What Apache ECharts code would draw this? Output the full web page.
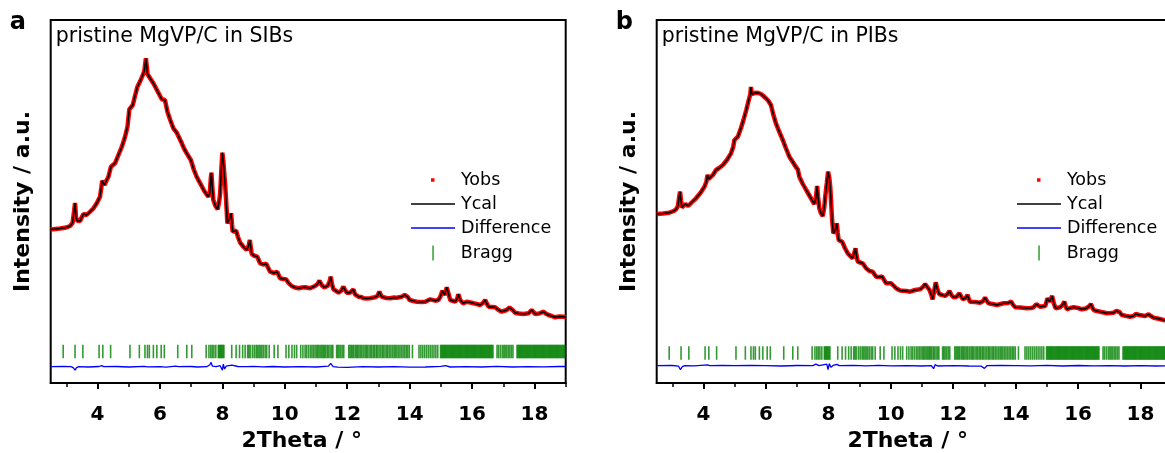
<!DOCTYPE html>
<html>
<head>
<meta charset="utf-8">
<script src="https://cdn.jsdelivr.net/npm/echarts@6/dist/echarts.min.js"></script>
<style>
  html, body { margin: 0; padding: 0; background: #fff; }
  #chart { width: 1165px; height: 453px; }
</style>
</head>
<body>
<div id="chart"></div>
<script>
// Powder patterns of pristine MgVP/C, Rietveld fit: [2θ (°), intensity (a.u.)]
// Observed and calculated profiles overlap at this scale, so one profile feeds both.
const sibProfile = [
  [2.5,153.5],[2.53,153.7],[2.8,154.5],[3.0,155.5],[3.12,157],[3.2,160],[3.25,172],[3.28,180],[3.31,166],[3.35,162.3],
  [3.44,162],[3.5,166],[3.55,169],[3.65,168],[3.75,171],[3.87,174.7],[3.98,180],[4.08,186.3],[4.12,195],[4.15,202.3],
  [4.22,198],[4.28,202],[4.35,206.3],[4.43,216.3],[4.56,219.7],[4.67,228],[4.78,236.3],[4.88,246],[4.96,256.3],[5.02,273.7],
  [5.13,278],[5.2,287],[5.28,296.3],[5.37,302],[5.45,308],[5.5,312],[5.55,324.7],[5.58,316],[5.6,309],[5.7,304],
  [5.79,299.7],[5.92,292],[6.06,283.7],[6.16,283],[6.24,271.3],[6.33,263],[6.43,254.7],[6.54,250.3],[6.62,245],[6.7,239.7],
  [6.78,234],[6.86,229.7],[6.99,223],[7.05,222.3],[7.09,213],[7.18,206],[7.29,199.7],[7.42,192],[7.55,186.3],[7.6,190],
  [7.63,205],[7.65,210.3],[7.68,195],[7.71,183],[7.78,177],[7.85,173.7],[7.9,182],[7.93,189.7],[7.97,215],[8.0,230.3],
  [8.03,222],[8.06,209.7],[8.09,198],[8.12,183],[8.16,159.7],[8.21,161.3],[8.25,166],[8.28,169.7],[8.31,158],[8.33,151.3],
  [8.38,152],[8.44,152.3],[8.5,146],[8.57,140.3],[8.68,136],[8.78,133],[8.84,137],[8.88,143],[8.91,136],[8.94,129],
  [9.04,127],[9.12,126.3],[9.15,124],[9.21,119.7],[9.33,118.5],[9.4,119.5],[9.44,118],[9.53,111.3],[9.65,110],[9.76,111],
  [9.8,110.3],[9.85,104.7],[9.95,104],[10.04,103.7],[10.12,100],[10.22,97],[10.33,95.5],[10.44,94.7],[10.55,95.5],[10.65,95.7],
  [10.81,94.7],[10.97,97],[11.05,99],[11.11,102.3],[11.18,98],[11.26,95.7],[11.37,97],[11.43,101],[11.47,106.3],[11.51,99],
  [11.56,93.7],[11.65,92],[11.72,90.3],[11.8,92],[11.88,96.3],[11.93,93],[11.99,90.3],[12.09,90.3],[12.2,93.7],[12.25,88.7],
  [12.36,86.3],[12.45,86],[12.52,84.7],[12.63,84.5],[12.73,84.7],[12.89,85.7],[12.97,87],[13.03,91.3],[13.1,86.3],[13.25,85],
  [13.38,84.7],[13.5,85.5],[13.59,85.3],[13.75,86.3],[13.84,88],[13.89,89],[13.94,86],[14.0,83],[14.12,82],[14.23,81.3],
  [14.38,81],[14.5,81.3],[14.66,83.7],[14.82,82.3],[14.92,83],[14.98,86],[15.05,92.3],[15.12,88],[15.19,95.7],[15.24,90],
  [15.3,83],[15.46,81.3],[15.52,84],[15.56,88.7],[15.62,83],[15.71,79.7],[15.84,81.3],[15.95,80.5],[16.05,79.7],[16.15,79],
  [16.26,78],[16.35,80],[16.42,83],[16.48,79],[16.53,76.3],[16.65,76],[16.74,75.7],[16.85,73],[16.95,71.3],[17.11,73],
  [17.2,75.5],[17.24,77],[17.3,73],[17.38,70.3],[17.5,69.5],[17.65,69],[17.81,69.7],[17.91,73],[17.96,71],[18.02,69],
  [18.15,69.5],[18.29,71.3],[18.36,69.5],[18.45,68],[18.55,67],[18.66,65.7],[18.8,66.5],[18.93,66.3],[19.0,66]
];

const pibProfile = [
  [2.5,169],[2.53,169],[2.7,169.5],[2.9,170.3],[3.05,172],[3.12,173.7],[3.18,177],[3.22,186],[3.25,191.3],[3.28,182],
  [3.31,175.7],[3.42,179],[3.51,177],[3.62,180.5],[3.76,184.7],[3.9,190],[4.03,196.3],[4.09,201],[4.13,208],[4.17,204],
  [4.21,203],[4.3,208],[4.4,213],[4.5,215],[4.62,218],[4.75,223],[4.88,229.7],[4.95,236],[4.99,243],[5.1,246.3],
  [5.2,255],[5.28,263],[5.37,273],[5.45,283],[5.5,289],[5.52,296],[5.55,289],[5.58,288],[5.68,290.3],[5.76,290],
  [5.84,289],[5.92,287],[6.0,284.7],[6.08,282],[6.16,278],[6.24,268],[6.32,259.7],[6.43,251],[6.54,243],[6.65,234],
  [6.75,226.3],[6.88,220],[6.96,216],[7.02,213.7],[7.07,206.3],[7.18,199],[7.29,193],[7.42,186],[7.55,179],[7.6,185],
  [7.64,197],[7.67,186],[7.71,174.7],[7.76,170],[7.82,167],[7.87,176],[7.9,186.3],[7.95,200],[7.99,211.3],[8.03,205],
  [8.06,196.3],[8.09,180],[8.12,163],[8.16,149.7],[8.22,153],[8.27,159.7],[8.3,150],[8.33,143],[8.44,141.3],[8.53,135],
  [8.62,129.7],[8.7,127],[8.78,124.7],[8.83,130],[8.87,134.7],[8.9,128],[8.94,121.3],[9.02,120.5],[9.1,119.7],[9.15,117.5],
  [9.21,114.7],[9.32,112],[9.38,112.5],[9.42,111.3],[9.53,106.3],[9.65,106],[9.72,106.5],[9.76,105.7],[9.85,99.7],[10.01,99.7],
  [10.1,97],[10.17,94.7],[10.3,92.5],[10.38,92.3],[10.5,92],[10.62,91.3],[10.78,93],[10.94,93.7],[11.03,96],[11.1,99],
  [11.17,96],[11.24,93],[11.3,88],[11.34,83.7],[11.39,92],[11.44,100.7],[11.49,94],[11.55,89],[11.65,88],[11.74,87],
  [11.82,89],[11.88,92],[11.94,88],[12.01,85.7],[12.1,86],[12.2,89.7],[12.26,86],[12.31,83.7],[12.4,85],[12.46,88],
  [12.5,84],[12.54,81.3],[12.7,81],[12.86,80.3],[12.96,82],[13.02,85.3],[13.08,82],[13.13,79.7],[13.25,79],[13.4,78],
  [13.52,79],[13.61,79.7],[13.75,80],[13.86,81.3],[13.92,78],[13.99,75.7],[14.15,75.5],[14.36,74.7],[14.5,75],[14.57,75.7],
  [14.66,78.7],[14.72,77],[14.79,76.3],[14.95,77],[15.02,84.7],[15.09,81.3],[15.17,87],[15.22,80],[15.28,74.7],[15.43,75.7],
  [15.5,78],[15.56,81.3],[15.6,77],[15.64,73.7],[15.75,75],[15.86,75.7],[16.0,75],[16.12,73.7],[16.25,74.5],[16.35,76.5],
  [16.41,79],[16.46,75.5],[16.5,73],[16.6,72],[16.71,71.3],[16.82,70.5],[16.92,69.7],[17.05,70],[17.14,70.3],[17.22,72],
  [17.28,73.7],[17.33,71],[17.4,68],[17.55,67],[17.67,66.3],[17.78,67],[17.85,69],[17.91,70.3],[17.96,68],[18.01,66.3],
  [18.15,67],[18.26,68.7],[18.33,67],[18.42,65.3],[18.55,64.5],[18.74,63],[18.88,62.5],[19.0,62]
];

// Yobs - Ycal residuals: [2θ (°), difference (a.u.)]
const sibDiff = [
  [2.5,0],[2.9,0.2],[3.15,0],[3.22,-1],[3.28,-3.5],[3.33,-1],[3.4,0],[3.7,-0.3],[4.05,0.2],[4.13,1],[4.2,0],
  [4.6,0.2],[5.0,-0.3],[5.5,0.3],[5.55,1],[5.6,-0.2],[6.0,0],[6.2,-0.5],[6.5,0.5],[6.6,0],[7.0,0.2],[7.2,-0.3],
  [7.5,0],[7.6,2],[7.64,4.3],[7.68,0.5],[7.8,0],[7.93,1],[7.97,3],[8.0,-3.5],[8.03,2.5],[8.07,-2.3],[8.12,0.5],
  [8.18,-0.5],[8.3,1.5],[8.36,-0.3],[8.5,0.2],[8.8,0],[9.0,0.3],[9.3,-0.2],[9.6,0.2],[10.0,-0.3],[10.5,0],
  [11.0,-0.3],[11.4,0.5],[11.47,3.3],[11.55,0],[11.7,-0.5],[12.0,-0.7],[12.5,0],[13.0,-0.3],[13.5,0],[14.0,-0.5],
  [14.5,-0.3],[15.0,0.3],[15.15,1],[15.3,-0.3],[15.8,0],[16.3,-0.3],[16.8,0.3],[17.3,-0.3],[17.8,0],[18.3,-0.2],
  [18.8,0.2],[19.0,0.2]
];

const pibDiff = [
  [2.5,0],[3.0,0.2],[3.2,-0.5],[3.26,-4],[3.32,-1],[3.4,0],[3.7,-0.2],[4.13,0.8],[4.2,0],[4.6,0.3],[5.0,0],
  [5.5,0.3],[6.0,0],[6.5,-0.3],[7.0,0.2],[7.5,0],[7.6,1.5],[7.64,3],[7.7,0],[7.95,1.5],[7.99,-4],[8.03,2],
  [8.08,-1.5],[8.15,0.3],[8.27,1.3],[8.35,0],[8.8,0.3],[9.2,-0.2],[9.6,0.3],[10.0,-0.2],[10.5,0],[11.0,-0.3],
  [11.3,0],[11.37,-3],[11.42,1],[11.5,-0.3],[12.0,0],[12.5,-0.3],[12.9,-0.5],[13.0,-2.7],[13.08,0],[13.5,0.2],
  [14.0,0],[14.5,-0.2],[15.0,0.3],[15.5,-0.3],[16.0,0.2],[16.5,-0.2],[17.0,0],[17.5,-0.3],[18.0,0],[18.5,-0.3],
  [19.0,-0.2]
];

// Bragg reflection positions of the MgVP phase (2θ, °)
const braggPositions = [
  2.90, 3.28, 3.53, 4.05, 4.17, 4.42, 5.04, 5.34, 5.52, 5.60, 5.66, 5.79, 5.90, 6.04, 6.14, 6.57, 6.86, 7.02,
  7.48, 7.57, 7.63, 7.68, 7.73, 7.79, 7.87, 7.90, 7.93, 7.96, 7.99, 8.02, 8.05, 8.30, 8.44, 8.55, 8.65, 8.73,
  8.81, 8.85, 8.89, 8.96, 9.02, 9.08, 9.12, 9.17, 9.21, 9.26, 9.31, 9.37, 9.42, 9.50, 9.66, 9.78, 10.04, 10.13,
  10.23, 10.31, 10.38, 10.51, 10.58, 10.65, 10.70, 10.76, 10.82, 10.87, 10.92, 10.97, 11.02, 11.06, 11.10, 11.15,
  11.19, 11.23, 11.27, 11.31, 11.36, 11.40, 11.45, 11.50, 11.54, 11.66, 11.70, 11.74, 11.79, 11.84, 11.89, 12.05,
  12.09, 12.13, 12.17, 12.21, 12.26, 12.30, 12.34, 12.38, 12.43, 12.47, 12.52, 12.57, 12.61, 12.65, 12.70, 12.75,
  12.79, 12.84, 12.88, 12.93, 12.97, 13.02, 13.07, 13.12, 13.16, 13.21, 13.26, 13.30, 13.35, 13.40, 13.45, 13.50,
  13.54, 13.59, 13.64, 13.69, 13.74, 13.79, 13.84, 13.89, 13.94, 13.99, 14.09, 14.30, 14.36, 14.42, 14.48, 14.54,
  14.60, 14.66, 14.72, 14.78, 14.84, 14.90, 14.99, 15.02, 15.05, 15.08, 15.11, 15.14, 15.17, 15.20, 15.23, 15.26,
  15.29, 15.32, 15.35, 15.38, 15.41, 15.44, 15.47, 15.50, 15.53, 15.56, 15.59, 15.62, 15.65, 15.68, 15.71, 15.74,
  15.77, 15.80, 15.83, 15.86, 15.89, 15.92, 15.95, 15.98, 16.01, 16.04, 16.07, 16.10, 16.13, 16.16, 16.19, 16.22,
  16.25, 16.28, 16.31, 16.34, 16.37, 16.40, 16.43, 16.46, 16.49, 16.52, 16.55, 16.58, 16.61, 16.64, 16.67, 16.80,
  16.85, 16.91, 16.97, 17.02, 17.06, 17.11, 17.16, 17.21, 17.26, 17.31, 17.44, 17.47, 17.50, 17.53, 17.56, 17.59,
  17.62, 17.65, 17.68, 17.71, 17.74, 17.77, 17.80, 17.83, 17.86, 17.89, 17.92, 17.95, 17.98, 18.01, 18.04, 18.07,
  18.10, 18.13, 18.16, 18.19, 18.22, 18.25, 18.28, 18.31, 18.34, 18.37, 18.40, 18.43, 18.46, 18.49, 18.52, 18.55,
  18.58, 18.61, 18.64, 18.67, 18.70, 18.73, 18.76, 18.79, 18.82, 18.85, 18.88, 18.91, 18.94, 18.97
];

// Axis ticks (2θ, °)
const majorTicks = [4, 6, 8, 10, 12, 14, 16, 18];
const minorTicks = [3, 5, 7, 9, 11, 13, 15, 17, 19];

const panelLetters = ['a', 'b'];
const panelTitles = ['pristine MgVP/C in SIBs', 'pristine MgVP/C in PIBs'];
const legendNames = ['Yobs', 'Ycal', 'Difference', 'Bragg'];

// ---- layout ----
const FONT = 'DejaVu Sans';
const X_MIN = 2.5, X_MAX = 19;
const Y_MIN = 0, Y_MAX = 363;
const panels = [
  { left: 50.7, profile: sibProfile, diff: sibDiff, diffBase: 16.3, braggLevel: 31.5 },
  { left: 656.7, profile: pibProfile, diff: pibDiff, diffBase: 17.3, braggLevel: 30 }
];
const GRID_TOP = 20, GRID_W = 515, GRID_H = 363;

const grids = [], xAxes = [], yAxes = [], series = [], legends = [], graphics = [];

panels.forEach((p, i) => {
  grids.push({
    left: p.left, top: GRID_TOP, width: GRID_W, height: GRID_H,
    containLabel: false, outerBoundsMode: 'none',
    show: true, borderColor: '#000', borderWidth: 2, backgroundColor: 'transparent'
  });
  // labelled axis with major ticks
  xAxes.push({
    type: 'value', gridIndex: i, min: X_MIN, max: X_MAX, position: 'bottom',
    name: '2Theta / °', nameLocation: 'middle', nameGap: 45,
    nameTextStyle: { fontFamily: FONT, fontWeight: 'bold', fontSize: 22, color: '#000', padding: [0, 13, 0, 0] },
    axisLine: { show: true, lineStyle: { color: '#000', width: 2 } },
    axisTick: { show: true, inside: false, length: 6, customValues: majorTicks, lineStyle: { color: '#000', width: 2 } },
    axisLabel: { show: true, customValues: majorTicks, margin: 22, fontFamily: FONT, fontWeight: 'bold', fontSize: 20, color: '#000' },
    splitLine: { show: false }
  });
  // companion axis carrying the minor ticks
  xAxes.push({
    type: 'value', gridIndex: i, min: X_MIN, max: X_MAX, position: 'bottom',
    axisLine: { show: false },
    axisTick: { show: true, inside: false, length: 4, customValues: minorTicks, lineStyle: { color: '#000', width: 1.5 } },
    axisLabel: { show: false },
    splitLine: { show: false }
  });
  yAxes.push({
    type: 'value', gridIndex: i, min: Y_MIN, max: Y_MAX,
    name: 'Intensity / a.u.', nameLocation: 'middle', nameGap: 16, nameRotate: 90,
    nameTextStyle: { fontFamily: FONT, fontWeight: 'bold', fontSize: 22, color: '#000' },
    axisLine: { show: false }, axisTick: { show: false }, axisLabel: { show: false }, splitLine: { show: false }
  });

  const xi = i * 2, yi = i;
  series.push({
    name: 'Yobs', type: 'line', xAxisIndex: xi, yAxisIndex: yi, data: p.profile,
    showSymbol: false, symbol: 'none', color: '#ff0000',
    lineStyle: { color: '#ff0000', width: 4.5 }, z: 2, animation: false
  });
  series.push({
    name: 'Ycal', type: 'line', xAxisIndex: xi, yAxisIndex: yi, data: p.profile,
    showSymbol: false, symbol: 'none', color: '#000',
    lineStyle: { color: '#000', width: 1.5 }, z: 3, animation: false
  });
  series.push({
    name: 'Difference', type: 'line', xAxisIndex: xi, yAxisIndex: yi,
    data: p.diff.map(d => [d[0], p.diffBase + d[1]]),
    showSymbol: false, symbol: 'none', color: '#0000ff',
    lineStyle: { color: '#0000ff', width: 1.3 }, z: 3, animation: false
  });
  series.push({
    name: 'Bragg', type: 'scatter', xAxisIndex: xi, yAxisIndex: yi,
    data: braggPositions.map(x => [x, p.braggLevel]),
    symbol: 'rect', symbolSize: [1.6, 13.5], color: '#008000',
    itemStyle: { color: '#008000' }, z: 3, animation: false, silent: true
  });

  // legend: three blocks so each icon keeps its own shape
  const dx = p.left - 50.7;
  const legendText = { fontFamily: FONT, fontSize: 17.5, color: '#000', lineHeight: 20 };
  legends.push({
    data: [legendNames[0]], left: 431 + dx, top: 170, padding: 0, icon: 'rect',
    itemWidth: 3.5, itemHeight: 3.5, selectedMode: false,
    textStyle: Object.assign({}, legendText, { padding: [0, 0, 0, 21.5] })
  });
  legends.push({
    data: [legendNames[1], legendNames[2]], orient: 'vertical', left: 411 + dx, top: 194, padding: 0,
    icon: 'rect', itemWidth: 44, itemHeight: 1.5, itemGap: 4, selectedMode: false,
    textStyle: Object.assign({}, legendText, { padding: [0, 0, 0, 1] })
  });
  legends.push({
    data: [legendNames[3]], left: 432.3 + dx, top: 243, padding: 0, icon: 'rect',
    itemWidth: 1.5, itemHeight: 15, selectedMode: false,
    textStyle: Object.assign({}, legendText, { padding: [0, 0, 0, 22] })
  });

  graphics.push({
    type: 'text', left: p.left + 5, top: 26,
    style: { text: panelTitles[i], font: '20.5px "' + FONT + '"', fill: '#000' }
  });
  graphics.push({
    type: 'text', left: p.left - 41, top: 11,
    style: { text: panelLetters[i], font: 'bold 24px "' + FONT + '"', fill: '#000' }
  });
});

const chart = echarts.init(document.getElementById('chart'), null, { renderer: 'canvas' });
chart.setOption({
  backgroundColor: '#fff',
  animation: false,
  grid: grids,
  xAxis: xAxes,
  yAxis: yAxes,
  legend: legends,
  series: series,
  graphic: graphics
});
</script>
</body>
</html>
